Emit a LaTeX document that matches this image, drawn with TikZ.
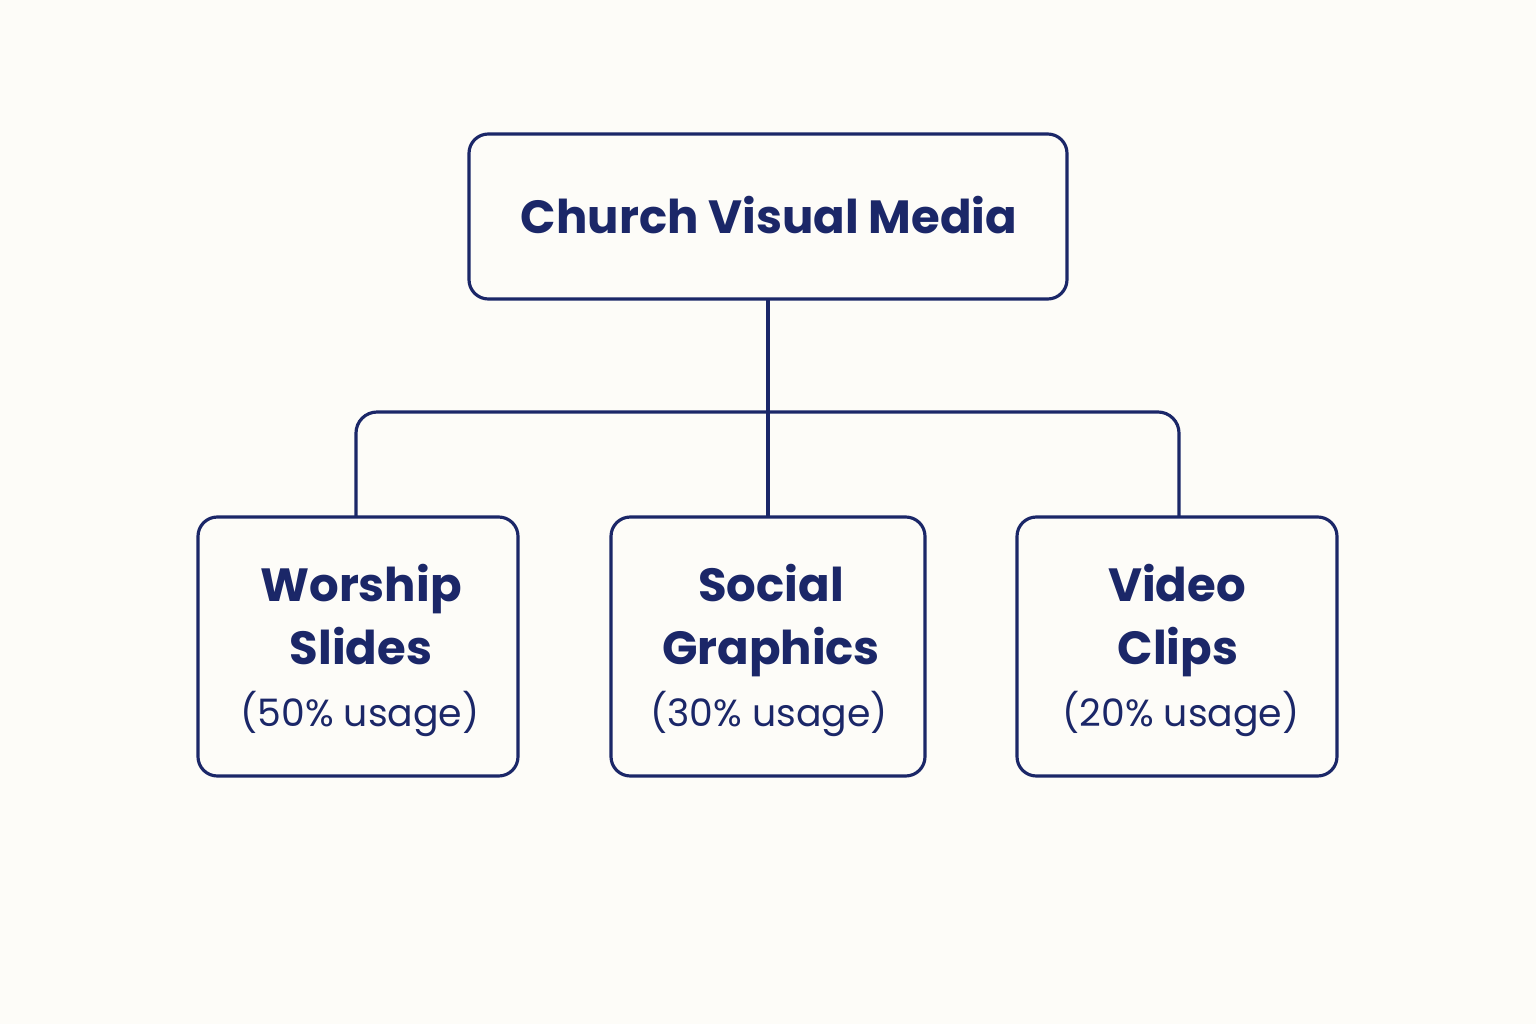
\documentclass[tikz,border=0pt]{standalone}
\usepackage{fontspec}
\setmainfont{Poppins}
\definecolor{navy}{HTML}{1B2768}
\definecolor{bg}{HTML}{FDFCF8}
\begin{document}
\begin{tikzpicture}[x=0.02cm,y=-0.02cm,
  box/.style={draw=navy,line width=1.8pt,rounded corners=11pt,fill=none},
  ttl/.style={text=navy,font=\fontsize{26.5}{30}\selectfont\bfseries,inner sep=0,anchor=base},
  sub/.style={text=navy,font=\fontsize{21.5}{24}\selectfont,inner sep=0,anchor=base},
  conn/.style={draw=navy,line width=1.8pt,rounded corners=12pt}]
\fill[bg] (0,0) rectangle (1536,1024);
\draw[box] (469,134) rectangle (1067,299);
\coordinate (top) at (768,299);
\node[ttl] (t) at (769,234) {Church Visual Media};
\draw[box] (198,517) rectangle (518,776);
\draw[box] (611,517) rectangle (925,776);
\draw[box] (1017,517) rectangle (1337,776);
\coordinate (a) at (356,517); \coordinate (b) at (768,517); \coordinate (c) at (1179,517);
\draw[conn] (top) -- (b);
\draw[conn] (a) -- (356,412) -- (1179,412) -- (c);
\node[ttl] (w1) at (361,601) {Worship};
\node[ttl] (w2) at (361,664) {Slides};
\node[sub] (w3) at (360,726) {(50\% usage)};
\node[ttl] (s1) at (771,601) {Social};
\node[ttl] (s2) at (771,664) {Graphics};
\node[sub] (s3) at (769,726) {(30\% usage)};
\node[ttl] (v1) at (1177,601) {Video};
\node[ttl] (v2) at (1178,664) {Clips};
\node[sub] (v3) at (1181,726) {(20\% usage)};
\end{tikzpicture}
\end{document}
